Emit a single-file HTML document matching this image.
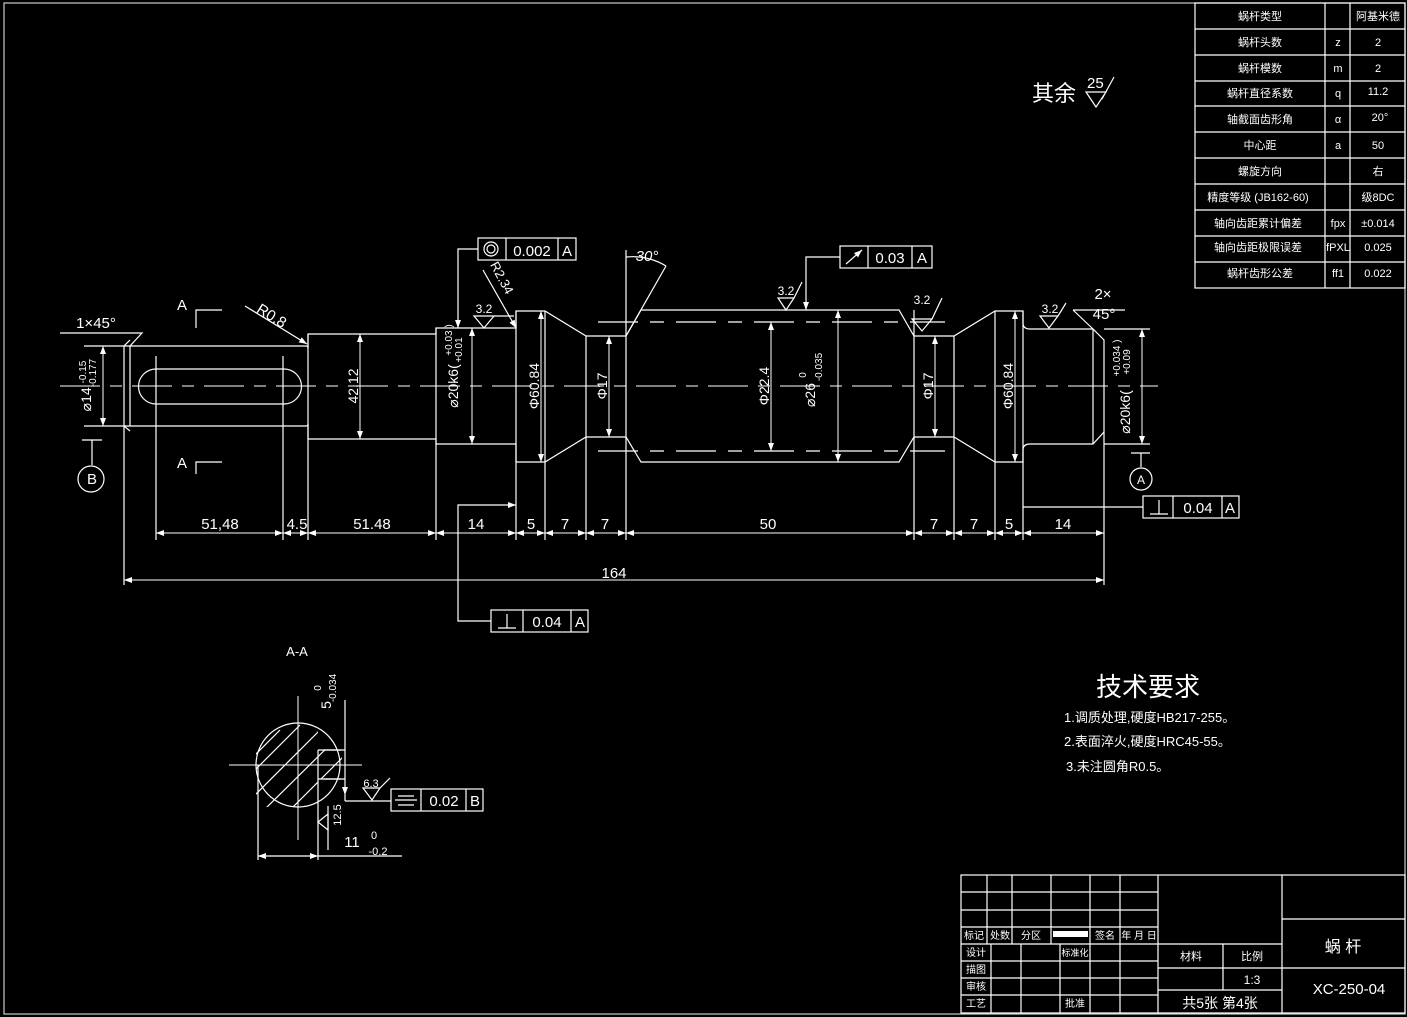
<!DOCTYPE html>
<html><head><meta charset="utf-8"><style>
html,body{margin:0;padding:0;background:#000;}
svg{display:block;}
text{fill:#fff;font-family:"Liberation Sans","Noto Sans CJK SC",sans-serif;}
.s{font-family:"Liberation Mono","Noto Sans CJK SC",monospace;}
</style></head><body>
<svg width="1407" height="1017" viewBox="0 0 1407 1017" xmlns="http://www.w3.org/2000/svg">
<defs>
<marker id="ar" markerWidth="8" markerHeight="6" refX="8" refY="3" orient="auto-start-reverse" markerUnits="userSpaceOnUse"><path d="M0,0 L8,3 L0,6 z" fill="#fff"/></marker>
</defs>
<rect x="0" y="0" width="1407" height="1017" fill="#000"/>
<g stroke="#fff" stroke-width="1.2" fill="none">
<rect x="4" y="3" width="1401" height="1011" stroke="#ccc"/>
<rect x="1195" y="3" width="210" height="285"/>
<line x1="1325" y1="3" x2="1325" y2="288"/><line x1="1350" y1="3" x2="1350" y2="288"/>
<path d="M1195 29H1405M1195 55H1405M1195 81H1405M1195 106H1405M1195 132H1405M1195 158H1405M1195 184H1405M1195 210H1405M1195 236H1405M1195 262H1405"/>

<path d="M60 386H1158" stroke-dasharray="40,10,12,10" stroke-width="1"/>
<path d="M598 322H945M598 451H945" stroke-dasharray="40,12,14,12" stroke-width="1.2"/>

<path d="M124 346H306Q308 346 308 348V334H436V328H516V311H545L586 336H626L641 310H899L914 336H954L995 311H1023V323Q1023 329 1030 329H1093L1104 340V432L1093 444H1030Q1023 444 1023 450V462H995L954 437H914L899 462H641L626 437H586L545 462H516V444H436V439H308V424Q308 426 306 426H124Z"/>
<path d="M130 346V426M124 346L130 340M124 426L130 431"/>
<line x1="308" y1="334" x2="308" y2="439"/>
<line x1="436" y1="328" x2="436" y2="444"/>
<line x1="516" y1="311" x2="516" y2="462"/>
<line x1="545" y1="311" x2="545" y2="462"/>
<line x1="586" y1="336" x2="586" y2="437"/>
<line x1="626" y1="250" x2="626" y2="540"/>
<line x1="914" y1="310" x2="914" y2="540"/>
<line x1="954" y1="336" x2="954" y2="540"/>
<line x1="995" y1="311" x2="995" y2="540"/>
<line x1="1023" y1="311" x2="1023" y2="540"/>
<line x1="1093" y1="329" x2="1093" y2="444"/>
<path d="M156 369H284A17.5 17.5 0 0 1 284 404H156A17.5 17.5 0 0 1 156 369Z"/>
<line x1="156" y1="356" x2="156" y2="540"/><line x1="283" y1="356" x2="283" y2="540"/>
<line x1="124" y1="426" x2="124" y2="585"/>
<line x1="308" y1="439" x2="308" y2="540"/>
<line x1="436" y1="444" x2="436" y2="540"/>
<line x1="516" y1="462" x2="516" y2="540"/>
<line x1="545" y1="462" x2="545" y2="540"/>
<line x1="586" y1="437" x2="586" y2="540"/>
<line x1="1104" y1="432" x2="1104" y2="585"/>
<line x1="626" y1="336" x2="666" y2="266"/>
<path d="M626 257Q648 255 666 266"/>
<path d="M1073 310H1125M1073 310L1093 329"/>
<g marker-start="url(#ar)" marker-end="url(#ar)" stroke-width="1">
<line x1="156" y1="533" x2="283" y2="533"/><line x1="283" y1="533" x2="308" y2="533"/>
<line x1="308" y1="533" x2="436" y2="533"/><line x1="436" y1="533" x2="516" y2="533"/>
<line x1="516" y1="533" x2="545" y2="533"/><line x1="545" y1="533" x2="586" y2="533"/>
<line x1="586" y1="533" x2="626" y2="533"/><line x1="626" y1="533" x2="914" y2="533"/>
<line x1="914" y1="533" x2="954" y2="533"/><line x1="954" y1="533" x2="995" y2="533"/>
<line x1="995" y1="533" x2="1023" y2="533"/><line x1="1023" y1="533" x2="1104" y2="533"/>
<line x1="124" y1="580" x2="1104" y2="580"/>
<line x1="103" y1="346" x2="103" y2="426"/>
<line x1="360" y1="334" x2="360" y2="439"/>
<line x1="472" y1="328" x2="472" y2="444"/>
<line x1="541" y1="311" x2="541" y2="462"/>
<line x1="609" y1="336" x2="609" y2="437"/>
<line x1="771" y1="322" x2="771" y2="451"/>
<line x1="838" y1="310" x2="838" y2="462"/>
<line x1="935" y1="336" x2="935" y2="437"/>
<line x1="1015" y1="311" x2="1015" y2="462"/>
<line x1="1142" y1="329" x2="1142" y2="444"/>
</g>
<path d="M1104 329H1150M1104 444H1150M84 346H124M84 426H124"/>
<path d="M474 316L484 328L494 316ZM474 316H514"/>
<path d="M483 270L516 328" marker-end="url(#ar)"/>
<path d="M778 298L786 310L794 298ZM794 298L802 282"/>
<path d="M912 319L922 331L932 319ZM932 319L942 298"/>
<path d="M1040 316L1049 328L1058 316ZM1058 316L1066 303"/>
<path d="M245 306L307 344" marker-end="url(#ar)"/>
<path d="M60 333H142L130 346"/>
<path d="M196 328V310H222M196 474V462H222"/>
<path d="M82 440H102M92 440V465"/><circle cx="91" cy="479" r="13"/>
<path d="M1131 453H1150M1141 453V467"/><circle cx="1141" cy="479" r="11"/>
<rect x="478" y="238" width="98" height="22"/><path d="M506 238V260M558 238V260"/>
<circle cx="491" cy="249" r="7"/><circle cx="491" cy="249" r="4"/>
<path d="M478 249H458V328" marker-end="url(#ar)"/>
<rect x="840" y="246" width="92" height="22"/><path d="M868 246V268M912 246V268"/>
<path d="M846 264L862 250" marker-end="url(#ar)"/>
<path d="M840 257H806V310" marker-end="url(#ar)"/>
<rect x="491" y="610" width="97" height="22"/><path d="M523 610V632M571 610V632"/>
<path d="M498 628H516M507 628V614"/>
<path d="M491 621H458V505H516" marker-end="url(#ar)"/>
<rect x="1143" y="496" width="96" height="22"/><path d="M1173 496V518M1222 496V518"/>
<path d="M1150 514H1168M1159 514V500"/>
<path d="M1143 507H1023"/>
<path d="M1086 92L1096 107L1106 92ZM1102 99L1114 77M1086 92H1106"/>

<circle cx="298" cy="765" r="42"/>
<path d="M229 765H362M298 696V840" stroke-width="1"/>
<path d="M258 765V860M318 750V860"/>
<path d="M318 750H341M318 779H341"/>
<path d="M324 750H345M324 779H345M345 700V801"/>
<path d="M258 856H318" marker-start="url(#ar)" marker-end="url(#ar)"/>
<path d="M318 856H402"/>
<path d="M345 732V750M345 779V795" marker-end="url(#ar)" stroke-width="1"/>
<clipPath id="cc"><path d="M256 723H318V750H342V779H318V807H256Z"/></clipPath>
<g clip-path="url(#cc)">
<path d="M250 800L320 730M262 812L345 730M280 820L345 755M240 785L300 725M250 760L280 730"/>
</g>
<path d="M363 788L372 800L380 788ZM380 788L390 778M345 801H391"/>
<path d="M328 814L318 822L328 830Z"/><path d="M328 806V850"/>
<rect x="391" y="789" width="92" height="22"/><path d="M421 789V811M466 789V811"/>
<path d="M398 796H414M395 800H417M398 805H414"/>

<rect x="961" y="875" width="444" height="138"/>
<path d="M961 892H1158M961 910H1158M961 927H1158M961 944H1158M961 961H1158M961 978H1158M961 995H1158"/>
<path d="M987 875V944M1012 875V944M1051 875V944M1090 875V1013M1120 875V1013M1158 875V1013"/>
<path d="M991 944V1013M1021 944V1013M1060 944V1013"/>
<path d="M1158 944H1282M1158 968H1282M1158 990H1282M1223 944V990M1282 875V1013M1282 919H1405M1282 968H1405"/>
</g>
<rect x="1053" y="931" width="35" height="6" fill="#fff"/>

<g font-size="11" text-anchor="middle">
<text x="1260" y="20">蜗杆类型</text><text x="1378" y="20">阿基米德</text>
<text x="1260" y="46">蜗杆头数</text><text x="1338" y="46">z</text><text x="1378" y="46">2</text>
<text x="1260" y="72">蜗杆模数</text><text x="1338" y="72">m</text><text x="1378" y="72">2</text>
<text x="1260" y="97">蜗杆直径系数</text><text x="1338" y="97">q</text><text x="1378" y="95">11.2</text>
<text x="1260" y="123">轴截面齿形角</text><text x="1338" y="123">α</text><text x="1380" y="121">20°</text>
<text x="1260" y="149">中心距</text><text x="1338" y="149">a</text><text x="1378" y="149">50</text>
<text x="1260" y="175">螺旋方向</text><text x="1378" y="175">右</text>
<text x="1258" y="201">精度等级  (JB162-60)</text><text x="1378" y="201">级8DC</text>
<text x="1258" y="227">轴向齿距累计偏差</text><text x="1338" y="227">fpx</text><text x="1378" y="227">±0.014</text>
<text x="1258" y="251">轴向齿距极限误差</text><text x="1338" y="251">fPXL</text><text x="1378" y="251">0.025</text>
<text x="1260" y="277">蜗杆齿形公差</text><text x="1338" y="277">ff1</text><text x="1378" y="277">0.022</text>
</g>
<text x="1032" y="101" font-size="22">其余</text><text x="1087" y="88" font-size="15">25</text>

<g font-size="15" text-anchor="middle" class="s">
<text x="220" y="529">51,48</text><text x="297" y="529">4.5</text><text x="372" y="529">51.48</text>
<text x="476" y="529">14</text><text x="531" y="529">5</text><text x="565" y="529">7</text><text x="605" y="529">7</text>
<text x="768" y="529">50</text><text x="934" y="529">7</text><text x="974" y="529">7</text><text x="1009" y="529">5</text><text x="1063" y="529">14</text>
<text x="614" y="578">164</text>
<text x="182" y="310">A</text><text x="182" y="468">A</text>
<text x="92" y="484">B</text><text x="1141" y="484" font-size="12">A</text>
<text x="96" y="328">1×45°</text>
<text x="269" y="320" transform="rotate(32 269 320)">R0.8</text>
<text x="498" y="280" transform="rotate(62 498 280)" font-size="13">R2.34</text>
<text x="484" y="313" font-size="12">3.2</text><text x="786" y="295" font-size="12">3.2</text>
<text x="922" y="304" font-size="12">3.2</text><text x="1050" y="313" font-size="12">3.2</text>
<text x="1103" y="299">2×</text><text x="1104" y="319">45°</text>
<text x="647" y="261" font-style="italic">30°</text>
<text x="532" y="256">0.002</text><text x="567" y="256">A</text>
<text x="890" y="263">0.03</text><text x="922" y="263">A</text>
<text x="547" y="627">0.04</text><text x="580" y="627">A</text>
<text x="1198" y="513">0.04</text><text x="1230" y="513">A</text>
<text x="297" y="656" font-size="13">A-A</text>
<text x="444" y="806">0.02</text><text x="475" y="806">B</text>
<text x="371" y="787" font-size="11">6.3</text>
<text x="352" y="847">11</text><text x="374" y="839" font-size="11">0</text><text x="378" y="855" font-size="11">-0.2</text>
</g>
<g font-size="14" text-anchor="middle" class="s">
<text transform="translate(91 386) rotate(-90)">⌀14 <tspan font-size="10" dy="-5">-0.15</tspan></text>
<text transform="translate(96 373) rotate(-90)" font-size="10">-0.177</text>
<text transform="translate(358 386) rotate(-90)">42.12</text>
<text transform="translate(458 386) rotate(-90)">⌀20k6(</text>
<text transform="translate(452 340) rotate(-90)" font-size="10">+0.03 )</text>
<text transform="translate(462 350) rotate(-90)" font-size="10">+0.01</text>
<text transform="translate(539 386) rotate(-90)">Φ60.84</text>
<text transform="translate(607 386) rotate(-90)">Φ17</text>
<text transform="translate(769 386) rotate(-90)">Φ22.4</text>
<text transform="translate(815 395) rotate(-90)">⌀26</text>
<text transform="translate(806 375) rotate(-90)" font-size="10">0</text>
<text transform="translate(822 367) rotate(-90)" font-size="10">-0.035</text>
<text transform="translate(933 386) rotate(-90)">Φ17</text>
<text transform="translate(1013 386) rotate(-90)">Φ60.84</text>
<text transform="translate(1130 412) rotate(-90)">⌀20k6(</text>
<text transform="translate(1120 358) rotate(-90)" font-size="10">+0.034 )</text>
<text transform="translate(1130 362) rotate(-90)" font-size="10">+0.09</text>
<text transform="translate(331 705) rotate(-90)">5</text>
<text transform="translate(321 688) rotate(-90)" font-size="10">0</text>
<text transform="translate(336 688) rotate(-90)" font-size="10">-0.034</text>
<text transform="translate(341 815) rotate(-90)" font-size="11">12.5</text>
</g>
<text x="1148" y="696" font-size="26" text-anchor="middle">技术要求</text>
<g font-size="13">
<text x="1064" y="722">1.调质处理,硬度HB217-255。</text>
<text x="1064" y="746">2.表面淬火,硬度HRC45-55。</text>
<text x="1066" y="771">3.未注圆角R0.5。</text>
</g>
<g font-size="10" text-anchor="middle">
<text x="974" y="939">标记</text><text x="1000" y="939">处数</text><text x="1031" y="939">分区</text>
<text x="1105" y="939">签名</text><text x="1139" y="939">年 月 日</text>
<text x="976" y="956">设计</text><text x="976" y="973">描图</text><text x="976" y="990">审核</text><text x="976" y="1007">工艺</text>
<text x="1075" y="956" font-size="9">标准化</text><text x="1075" y="1007">批准</text>
<text x="1191" y="960" font-size="11">材料</text><text x="1252" y="960" font-size="11">比例</text>
<text x="1252" y="984" font-size="12">1:3</text>
<text x="1220" y="1008" font-size="14">共5张 第4张</text>
<text x="1343" y="952" font-size="16">蜗  杆</text>
<text x="1349" y="994" font-size="15">XC-250-04</text>
</g>
</svg>
</body></html>
